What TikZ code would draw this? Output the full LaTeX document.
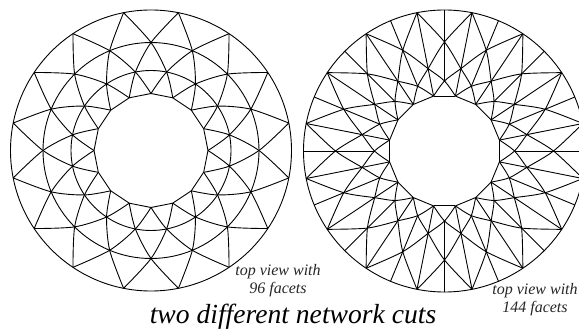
\documentclass[tikz,border=0pt]{standalone}
\usepackage{fontspec}
\setmainfont{Liberation Serif}
\usepackage{tikz}

\begin{document}
\begin{tikzpicture}[
  x=1pt, y=1pt,
  facet/.style={line width=0.9pt, black},
  caption/.style={font=\fontsize{16}{18}\selectfont\itshape, align=center, text=black!85},
  heading/.style={font=\fontsize{27.6}{30}\selectfont\itshape}
]
\useasboundingbox (0,0) rectangle (579,330);

% 96 facets: rings, two families of spirals, polygon inside
\begin{scope}[shift={(151,179.5)}]
  \foreach \r in {140.5,108,80}
    \draw[facet] (0,0) circle (\r pt);
  \foreach \k in {0,...,15} {
    \pgfmathsetmacro{\a}{\k*22.5}
    \draw[facet] plot[smooth] coordinates {(\a+11.25:140.5pt) (\a+22.5:108pt) (\a+33.75:80pt) (\a+45:57pt)};
    \draw[facet] plot[smooth] coordinates {(\a+11.25:140.5pt) (\a:108pt) (\a-11.25:80pt) (\a-22.5:57pt)};
    \draw[facet] (\a:57pt) -- (\a+22.5:57pt);
  }
\end{scope}

% 144 facets: spirals plus radial spokes
\begin{scope}[shift={(444.5,179)}]
  \draw[facet] (0,0) circle (141pt);
  \foreach \k in {0,...,15} {
    \pgfmathsetmacro{\a}{\k*22.5}
    \draw[facet] plot[smooth] coordinates {(\a+11.25:141pt) (\a+22.5:109pt) (\a+33.75:84pt) (\a+45:70pt) (\a+56.25:56pt)};
    \draw[facet] plot[smooth] coordinates {(\a+11.25:141pt) (\a:109pt) (\a-11.25:84pt) (\a-22.5:70pt) (\a-33.75:56pt)};
    \draw[facet] (\a+11.25:141pt) -- (\a+11.25:56pt);
    \draw[facet] (\a:141pt) -- (\a:70pt);
    \draw[facet] (\a+11.25:56pt) -- (\a+33.75:56pt);
  }
\end{scope}

\node[caption] (leftcap) at (278,49) {top view with\\96 facets};
\node[caption] (rightcap) at (535,30) {top view with\\144 facets};
\node[heading] (title) at (293,13) {two different network cuts};
\end{tikzpicture}
\end{document}
